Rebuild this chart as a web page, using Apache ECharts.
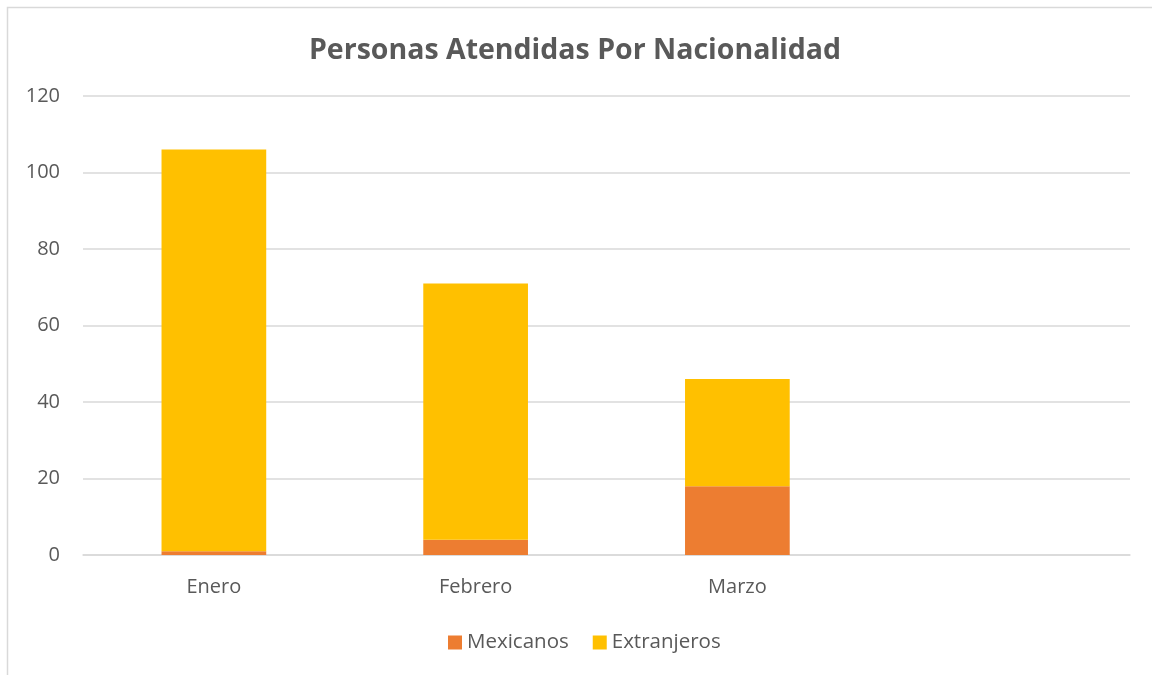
<!DOCTYPE html>
<html><head><meta charset="utf-8">
<script src="https://cdn.jsdelivr.net/npm/echarts@6/dist/echarts.min.js"></script>
<style>html,body{margin:0;padding:0;background:#fff}#c{width:1152px;height:675px}</style>
</head><body><div id="c"></div>
<script>
const categories = ['Enero', 'Febrero', 'Marzo', ''];
const mexicanos = [1, 4, 18, null];
const extranjeros = [105, 67, 28, null];
const yTicks = { min: 0, max: 120, interval: 20 };

const chart = echarts.init(document.getElementById('c'), null, { renderer: 'canvas' });
const font = 'Open Sans, Lato, sans-serif';
chart.setOption({
  animation: false,
  backgroundColor: '#ffffff',
  graphic: [{
    type: 'rect', shape: { x: 7.5, y: 7.5, width: 1300, height: 800 },
    style: { fill: 'none', stroke: '#d9d9d9', lineWidth: 1.5 }, silent: true
  }],
  title: {
    text: 'Personas Atendidas Por Nacionalidad',
    left: 570, top: 31, textAlign: 'center',
    textStyle: { fontFamily: font, fontSize: 28.5, fontWeight: 'bold', color: '#595959' }
  },
  legend: {
    data: ['Mexicanos', 'Extranjeros'],
    left: 443, top: 627, itemWidth: 14, itemHeight: 14, itemGap: 24,
    icon: 'rect',
    textStyle: { fontFamily: font, fontSize: 20.5, color: '#595959', padding: [0, 0, 0, 0] }
  },
  grid: { left: 83, right: 22, top: 96, bottom: 120, containLabel: false },
  xAxis: {
    type: 'category', data: categories,
    axisLine: { lineStyle: { color: '#d9d9d9', width: 1.5 } },
    axisTick: { show: false },
    axisLabel: { fontFamily: font, fontSize: 20, color: '#595959', margin: 22 }
  },
  yAxis: {
    type: 'value', min: yTicks.min, max: yTicks.max, interval: yTicks.interval,
    axisLine: { show: false }, axisTick: { show: false },
    splitLine: { lineStyle: { color: '#d9d9d9', width: 1.5 } },
    axisLabel: { fontFamily: font, fontSize: 20, color: '#595959', margin: 23 }
  },
  series: [
    { name: 'Mexicanos', type: 'bar', stack: 't', data: mexicanos, barWidth: '40%',
      itemStyle: { color: '#ed7d31' } },
    { name: 'Extranjeros', type: 'bar', stack: 't', data: extranjeros, barWidth: '40%',
      itemStyle: { color: '#ffc000' } }
  ]
});
</script></body></html>
